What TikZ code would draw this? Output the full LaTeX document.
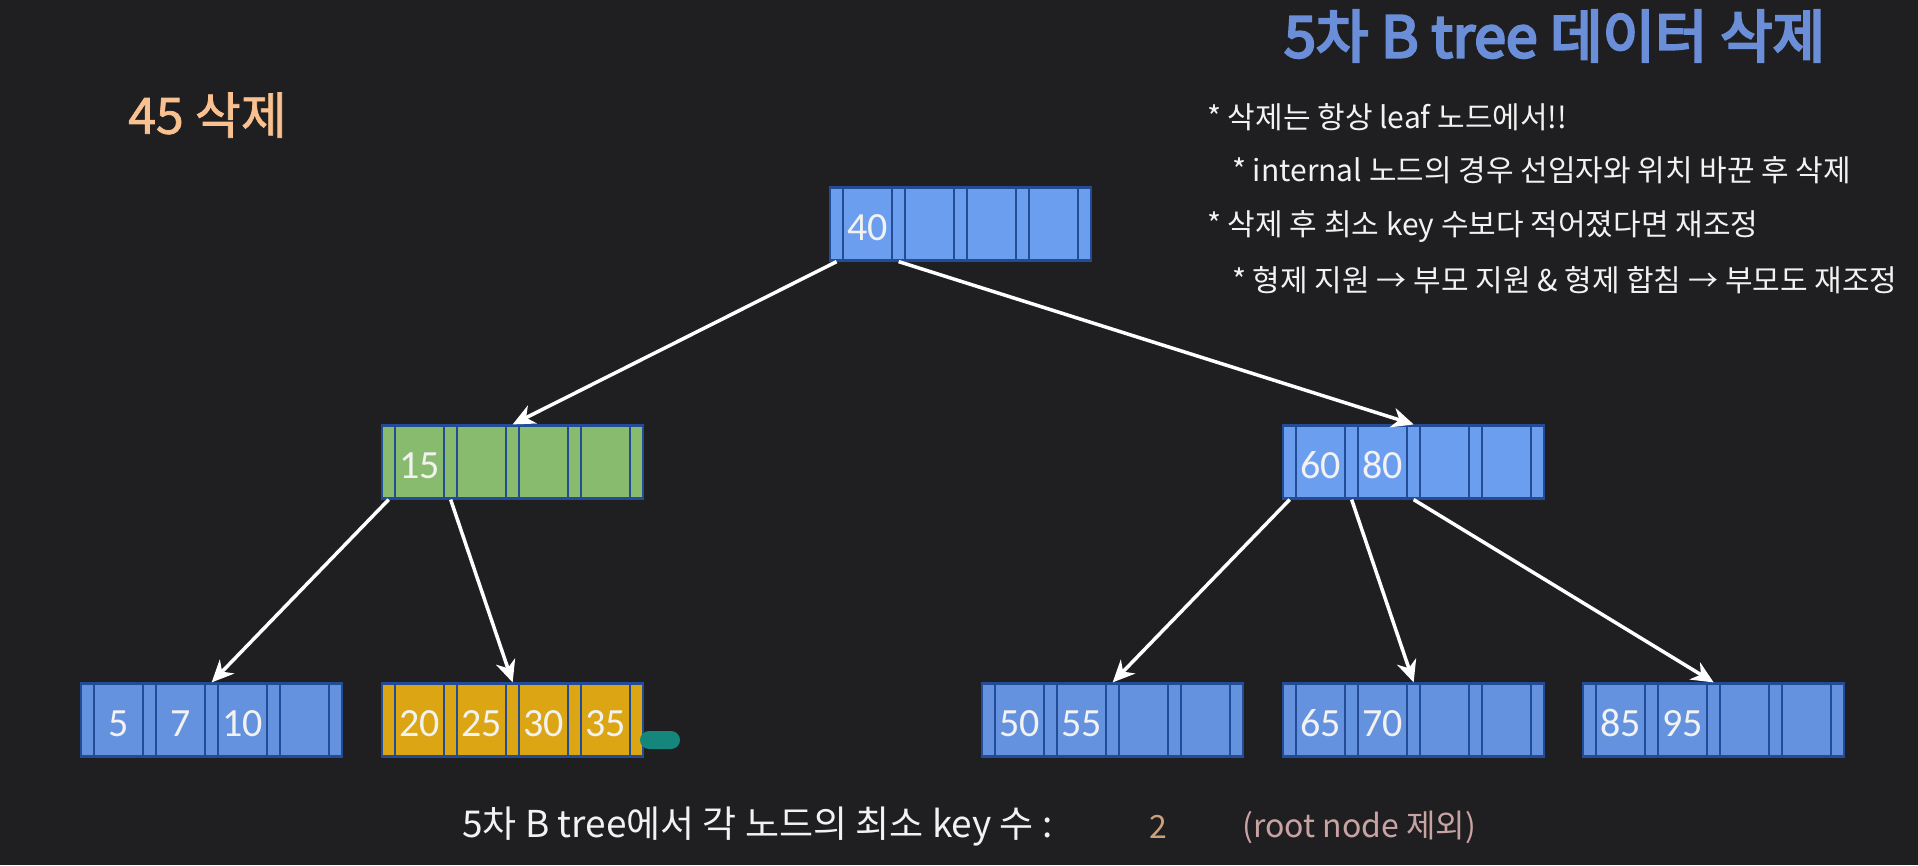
\documentclass[tikz,border=0pt]{standalone}
\usepackage{fontspec}
\setmainfont{Noto Sans CJK KR}
\newfontfamily\titlefont[FakeBold=4.5]{Noto Sans CJK KR}
\newfontfamily\peachfont[FakeBold=1.5]{Noto Sans CJK KR}
\newfontfamily\numfont{Carlito}
\usetikzlibrary{arrows.meta}
\definecolor{bgcol}{HTML}{1F1E20}
\definecolor{blueint}{HTML}{6C9EF0}
\definecolor{blueleaf}{HTML}{6592DE}
\definecolor{greenfill}{HTML}{89BB6E}
\definecolor{yellowfill}{HTML}{DBA514}
\definecolor{slotborder}{HTML}{234C96}
\definecolor{titleblue}{HTML}{6A8FD8}
\definecolor{peach}{HTML}{F8C18F}
\definecolor{textwhite}{HTML}{F2F2F2}
\definecolor{tan}{HTML}{C9A27C}
\definecolor{pinkish}{HTML}{C8A3A3}
\definecolor{markteal}{HTML}{14867B}
\tikzset{
  ptrslot/.style={draw=slotborder, line width=2.2pt, minimum width=13.3pt, minimum height=73pt, inner sep=0pt},
  keyslot/.style={draw=slotborder, line width=2.2pt, minimum width=48.7pt, minimum height=73pt, inner sep=0pt,
    text height=33pt, text depth=0pt,
    text=textwhite, font=\numfont\fontsize{40}{40}\selectfont},
  conn/.style={draw=white, line width=3.5pt, -{Stealth[length=22pt,width=20pt,inset=7pt]}},
  bullettext/.style={anchor=west, text=textwhite, inner sep=0pt, font=\fontsize{30}{34}\selectfont},
  bottomtext/.style={anchor=west, inner sep=0pt}
}
\newcommand\btnode[8]{%
  \foreach \i in {0,...,4}{\node[ptrslot,fill=#4] (#1p\i) at ({#2+\i*62+6.65},{#3+37}) {};}
  \node[keyslot,fill=#4] (#1k1) at ({#2+37.65},{#3+37}) {#5};
  \node[keyslot,fill=#4] (#1k2) at ({#2+99.65},{#3+37}) {#6};
  \node[keyslot,fill=#4] (#1k3) at ({#2+161.65},{#3+37}) {#7};
  \node[keyslot,fill=#4] (#1k4) at ({#2+223.65},{#3+37}) {#8};
}
\begin{document}
\begin{tikzpicture}[x=1pt,y=-1pt]
\fill[bgcol] (0,0) rectangle (1918,865);
\useasboundingbox (0,0) rectangle (1918,865);

% titles
\node[anchor=west, inner sep=0pt, text=titleblue, font=\titlefont\fontsize{57}{60}\selectfont] (title) at (1284,36) {5차 B tree 데이터 삭제};
\node[anchor=west, inner sep=0pt, text=peach, font=\peachfont\fontsize{50}{52}\selectfont] (deltitle) at (128,115) {45 삭제};

% bullets
\node[bullettext] (b1) at (1207,117) {* 삭제는 항상 leaf 노드에서!!};
\node[bullettext] (b2) at (1232,170) {* internal 노드의 경우 선임자와 위치 바꾼 후 삭제};
\node[bullettext] (b3) at (1207,227) {* 삭제 후 최소 key 수보다 적어졌다면 재조정};
\node[bullettext] (b4) at (1232,280) {* 형제 지원 → 부모 지원 \& 형제 합침 → 부모도 재조정};

% tree nodes
\btnode{root}{830}{187}{blueint}{40}{}{}{}
\btnode{g}{382}{425}{greenfill}{15}{}{}{}
\btnode{r}{1283}{425}{blueint}{60}{80}{}{}
\btnode{a}{81}{683}{blueleaf}{5}{7}{10}{}
\btnode{b}{382}{683}{yellowfill}{20}{25}{30}{35}
\btnode{c}{982}{683}{blueleaf}{50}{55}{}{}
\btnode{d}{1283}{683}{blueleaf}{65}{70}{}{}
\btnode{e}{1583}{683}{blueleaf}{85}{95}{}{}

% mark
\node[fill=markteal, rounded corners=9pt, minimum width=40pt, minimum height=18pt, inner sep=0pt] (mark) at (660,740) {};

% connectors
\draw[conn] (rootp0.south) -- (gp2.north);
\draw[conn] (rootp1.south) -- (rp2.north);
\draw[conn] (gp0.south) -- (ap2.north);
\draw[conn] (gp1.south) -- (bp2.north);
\draw[conn] (rp0.south) -- (cp2.north);
\draw[conn] (rp1.south) -- (dp2.north);
\draw[conn] (rp2.south) -- (ep2.north);

% bottom line
\node[bottomtext, text=textwhite, font=\fontsize{37}{40}\selectfont] (minkey) at (462,827) {5차 B tree에서 각 노드의 최소 key 수 :};
\node[bottomtext, anchor=center, text=tan, font=\fontsize{32}{36}\selectfont] (two) at (1158,827) {2};
\node[bottomtext, text=pinkish, font=\fontsize{32}{36}\selectfont] (except) at (1242,827) {(root node 제외)};
\end{tikzpicture}
\end{document}
